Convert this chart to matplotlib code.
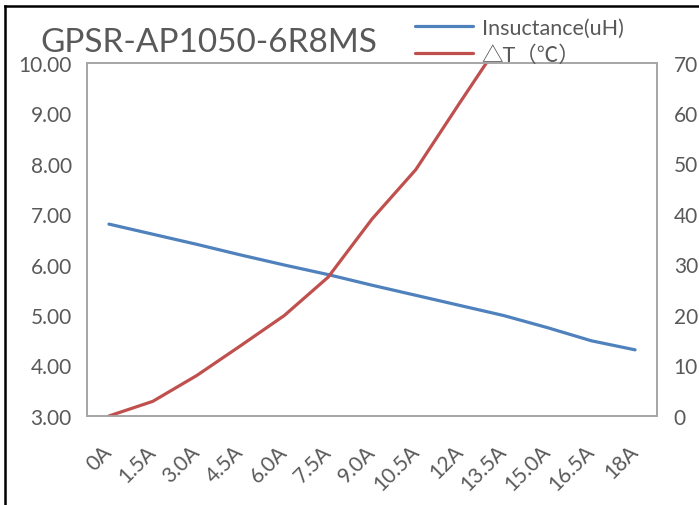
import numpy as np
import matplotlib.pyplot as plt
from matplotlib.lines import Line2D

plt.rcParams['font.family'] = ['Lato', 'Noto Sans CJK SC', 'DejaVu Sans']

# data
currents = ['0A', '1.5A', '3.0A', '4.5A', '6.0A', '7.5A', '9.0A',
            '10.5A', '12A', '13.5A', '15.0A', '16.5A', '18A']
inductance = [6.80, 6.60, 6.40, 6.19, 5.99, 5.80, 5.59,
              5.39, 5.19, 4.99, 4.75, 4.49, 4.31]
delta_t = [0.0, 2.9, 8.0, 13.9, 19.9, 27.5, 39.0,
           48.8, 62.0, 75.0, np.nan, np.nan, np.nan]

blue = '#4F81BD'
red = '#C0504D'
grey = '#595959'

fig = plt.figure(figsize=(6.99, 5.06), dpi=100)
ax = fig.add_axes([87/699, 1 - 417/506, 570/699, 353.5/506])
x = np.arange(len(currents))

l1, = ax.plot(x, inductance, color=blue, lw=2.3, label='Insuctance(uH)',
              solid_capstyle='round')
ax.set_xlim(-0.5, len(currents) - 0.5)
ax.set_ylim(3, 10)
ax.set_yticks(np.arange(3, 10.01, 1))
ax.set_yticklabels(['%.2f' % v for v in np.arange(3, 10.01, 1)])
ax.set_xticks(x)
ax.set_xticklabels(currents, rotation=45, ha='right', va='center',
                   rotation_mode='anchor')

ax2 = ax.twinx()
l2, = ax2.plot(x, delta_t, color=red, lw=2.3, label='△T（℃）',
               solid_capstyle='round')
ax2.set_ylim(0, 70)
ax2.set_yticks(np.arange(0, 71, 10))

for a in (ax, ax2):
    for s in a.spines.values():
        s.set_color('#A6A6A6')
        s.set_linewidth(1.2)
    a.tick_params(length=0, labelsize=15, labelcolor=grey)
ax.tick_params(axis='y', pad=11)
ax.tick_params(axis='x', pad=23)
ax2.tick_params(axis='y', pad=12)

fig.text(40/699, 1 - 52/506, 'GPSR-AP1050-6R8MS', fontsize=24, color=grey,
         ha='left', va='baseline')

fig.legend(handles=[l1, l2], loc='upper left',
           bbox_to_anchor=(415/699, 1 - 19/506), frameon=False,
           fontsize=15.5, labelcolor=grey, handlelength=2.7,
           handletextpad=0.4, labelspacing=0.3, borderpad=0,
           borderaxespad=0)

# black frame edges visible in the crop
fig.add_artist(Line2D([5/699, 5/699], [0, 1 - 7/506], color='black',
                      lw=1.8, transform=fig.transFigure))
fig.add_artist(Line2D([5/699, 1], [1 - 7/506, 1 - 7/506], color='black',
                      lw=1.8, transform=fig.transFigure))

fig.savefig('out.png', dpi=100)
